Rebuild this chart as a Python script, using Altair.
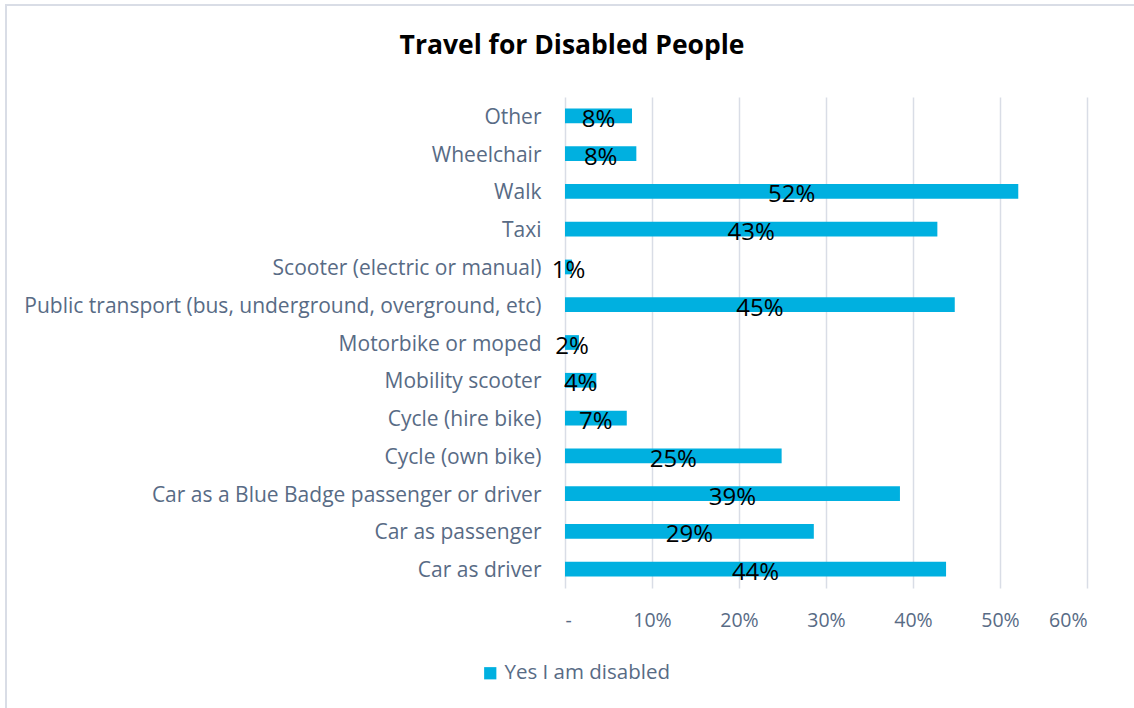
import altair as alt
import pandas as pd

categories = [
    "Other", "Wheelchair", "Walk", "Taxi", "Scooter (electric or manual)",
    "Public transport (bus, underground, overground, etc)", "Motorbike or moped",
    "Mobility scooter", "Cycle (hire bike)", "Cycle (own bike)",
    "Car as a Blue Badge passenger or driver", "Car as passenger", "Car as driver",
]
values = [0.077, 0.082, 0.521, 0.428, 0.008, 0.448, 0.016, 0.036, 0.071, 0.249, 0.385, 0.286, 0.438]
labels = ["8%", "8%", "52%", "43%", "1%", "45%", "2%", "4%", "7%", "25%", "39%", "29%", "44%"]
series = "Yes I am disabled"
title_text = "Travel for Disabled People"
tick_values = [0, 0.1, 0.2, 0.3, 0.4, 0.5, 0.6]

df = pd.DataFrame({"cat": categories, "val": values, "lab": labels, "series": series})
df["mid"] = df["val"] / 2

FONT = "Open Sans"
AXC = "#586b85"
BAR = "#00b0e0"

y_enc = alt.Y("cat:N", sort=categories,
              scale=alt.Scale(paddingInner=0.61, paddingOuter=0.305),
              axis=alt.Axis(title=None, labelFont=FONT, labelFontSize=21, labelColor=AXC,
                            labelPadding=24, labelOffset=2, ticks=False, domain=False,
                            grid=False, labelLimit=600))

bars = alt.Chart(df).mark_bar().encode(
    x=alt.X("val:Q", scale=alt.Scale(domain=[0, 0.6], nice=False),
            axis=alt.Axis(title=None, values=tick_values,
                          labelExpr="datum.value == 0 ? '-' : format(datum.value, '.0%')",
                          labelFont=FONT, labelFontSize=19.5, labelColor=AXC, labelPadding=23,
                          ticks=False, domain=False, grid=True, gridColor="#d9dde6",
                          gridWidth=1.5)),
    y=y_enc,
    color=alt.Color("series:N", scale=alt.Scale(range=[BAR]),
                    legend=alt.Legend(title=None, orient="none", legendX=-85, legendY=566,
                                      symbolType="square", symbolSize=150,
                                      symbolStrokeWidth=0, labelFont=FONT, labelFontSize=20.5,
                                      labelColor=AXC, labelLimit=400)),
)

text = alt.Chart(df).mark_text(font=FONT, fontSize=24, color="black", dy=4).encode(
    x="mid:Q",
    y=alt.Y("cat:N", sort=categories),
    text="lab:N",
)

title = alt.Chart(pd.DataFrame({"t": [title_text]})).mark_text(
    font=FONT, fontSize=26.5, fontWeight="bold", color="black", align="center", baseline="middle"
).encode(x=alt.value(7), y=alt.value(-51), text="t:N")

border = alt.Chart(df.head(1)).mark_rect(fill=None, stroke="#d9dde6", strokeWidth=2).encode(
    x=alt.value(-559), x2=alt.value(580), y=alt.value(-92), y2=alt.value(630),
)

chart = alt.layer(border, bars, text, title).properties(
    width=522, height=491,
    padding={"left": 565, "top": 97, "right": 47, "bottom": 120},
    autosize=alt.AutoSizeParams(type="none"),
).configure_view(stroke=None)

chart.save("out.html", embed_options={"renderer": "svg", "actions": False})
